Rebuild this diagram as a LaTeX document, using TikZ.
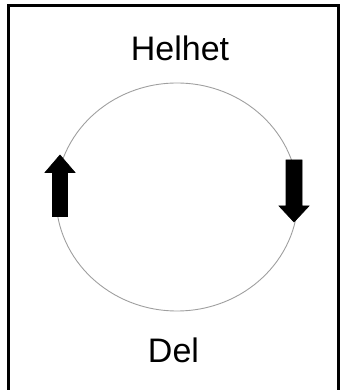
\documentclass[tikz,border=0pt]{standalone}
\usepackage{fontspec}
\setmainfont{Liberation Sans}
\begin{document}
\begin{tikzpicture}[x=1pt,y=1pt,
  frameline/.style={line width=3.5pt,black},
  cycle/.style={draw=gray!75,line width=0.9pt},
  blockarrow/.style={fill=black,draw=black,line width=0.6pt,line join=miter},
  label/.style={font=\fontsize{34}{40}\selectfont,anchor=base,inner sep=0pt}]
\useasboundingbox (0,0) rectangle (345,390);
% frame
\draw[frameline] (8.5,0) -- (8.5,384.5) -- (338.5,384.5) -- (338.5,0);
% circle
\coordinate (c) at (177,193);
\draw[cycle] (c) ellipse [x radius=121, y radius=114];
% texts
\node[label] (whole) at (180,329) {Helhet};
\node[label] (part) at (173.5,27.5) {Del};
% up arrow (left)
\fill[blockarrow] (52.5,173.5) -- (52.5,217.5) -- (45,217.5) -- (60,235)
  -- (75,217.5) -- (67.5,217.5) -- (67.5,173.5) -- cycle;
% down arrow (right)
\fill[blockarrow] (286,230) -- (286,184) -- (279,184) -- (294,168)
  -- (309,184) -- (302,184) -- (302,230) -- cycle;
\end{tikzpicture}
\end{document}
